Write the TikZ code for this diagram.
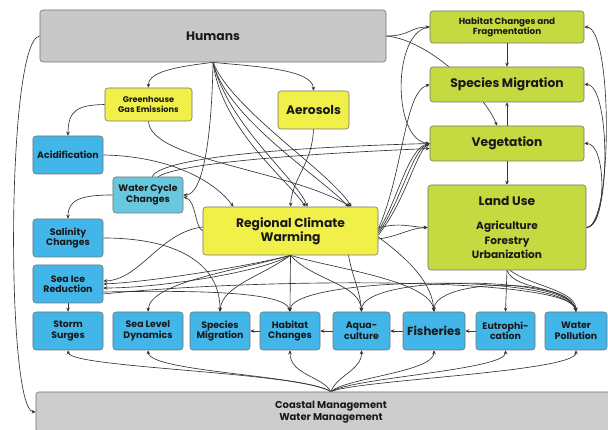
\documentclass[tikz,border=0pt]{standalone}
\usepackage{fontspec}
\setmainfont{Poppins}
\usepackage{tikz}
\usetikzlibrary{arrows.meta}
\usetikzlibrary{calc}
\pgfdeclarelayer{bg}
\pgfsetlayers{bg,main}
\definecolor{humgray}{RGB}{200,200,200}
\definecolor{landgreen}{RGB}{197,217,64}
\definecolor{climyellow}{RGB}{240,240,72}
\definecolor{seablue}{RGB}{66,182,232}
\definecolor{cycleblue}{RGB}{104,200,222}
\tikzstyle{box} =[draw=black!55, line width=0.5pt, rounded corners=2.5pt, align=center, inner sep=1pt, text=black!90]
\tikzstyle{graybox} =[box, fill=humgray, font=\bfseries\fontsize{10.5}{12}\selectfont]
\tikzstyle{greenbox} =[box, fill=landgreen, minimum width=4.62cm, minimum height=1.05cm, font=\bfseries\fontsize{10.5}{12}\selectfont]
\tikzstyle{yellowbox} =[box, fill=climyellow, font=\bfseries\fontsize{10.5}{12}\selectfont]
\tikzstyle{bluebox} =[box, fill=seablue, minimum width=2.1cm, minimum height=1.14cm, font=\bfseries\fontsize{8}{9}\selectfont]
\tikzstyle{link} =[-{Stealth[length=3.4pt,width=3pt]}, line width=0.55pt, black!80]

\begin{document}
\begin{tikzpicture}[x=0.03cm,y=-0.03cm]
		\useasboundingbox (0,0) rectangle (608,430);
		\clip (0,0) rectangle (608,430);
		\node (hum)[graybox, minimum width=10.38cm, minimum height=1.56cm] at (213,36) {Humans};
		\node (coast)[graybox, fill=humgray!90, minimum width=17.7cm, minimum height=1.2cm,
		font=\bfseries\fontsize{8.5}{10}\selectfont] at (331,412) {Coastal Management\\Water Management};
		\node (hab)[greenbox, minimum height=0.96cm, font=\bfseries\fontsize{7.5}{8.5}\selectfont] at (507,27) {Habitat Changes and\\Fragmentation};
		\node (spmg)[greenbox] at (507,84.5) {Species Migration};
		\node (veg)[greenbox] at (507,143.5) {Vegetation};
		\node (land)[greenbox, minimum width=4.74cm, minimum height=2.55cm] at (507,227.5)
		{Land Use\\[3mm]\fontsize{9}{11}\selectfont Agriculture\\\fontsize{9}{11}\selectfont Forestry\\\fontsize{9}{11}\selectfont Urbanization};
		\node (ghg)[yellowbox, minimum width=2.61cm, minimum height=0.99cm, font=\bfseries\fontsize{7}{8}\selectfont] at (148.5,104.5) {Greenhouse\\Gas Emissions};
		\node (aero)[yellowbox, minimum width=2.13cm, minimum height=1.14cm] at (313.5,110) {Aerosols};
		\node (rcw)[yellowbox, minimum width=5.25cm, minimum height=1.44cm] at (290.5,231) {Regional Climate\\Warming};
		\node (acid)[bluebox] at (68,155) {Acidification};
		\node (wcc)[bluebox, fill=cycleblue, minimum height=1.08cm] at (148,195) {Water Cycle\\Changes};
		\node (sal)[bluebox] at (68,238) {Salinity\\Changes};
		\node (ice)[bluebox] at (68,284) {Sea Ice\\Reduction};
		\node (storm)[bluebox] at (68,331) {Storm\\Surges};
		\node (slr)[bluebox] at (148,331) {Sea Level\\Dynamics};
		\node (spm)[bluebox, minimum width=1.8cm] at (220,331) {Species\\Migration};
		\node (habc)[bluebox, minimum width=1.8cm] at (290,331) {Habitat\\Changes};
		\node (aqua)[bluebox, minimum width=1.71cm] at (361.5,331) {Aqua-\\culture};
		\node (fish)[bluebox, minimum width=1.86cm, font=\bfseries\fontsize{10}{12}\selectfont] at (434,331) {Fisheries};
		\node (eutro)[bluebox, minimum width=1.77cm] at (505.5,331) {Eutrophi-\\cation};
		\node (wpol)[bluebox, minimum width=1.86cm] at (576,331) {Water\\Pollution};
		\begin{pgfonlayer}{bg}
		\draw[link] (hum.south) .. controls (185,66) and (148,70) .. (ghg.north);
		\draw[link] (hum.south) .. controls (245,66) and (313,68) .. (aero.north);
		\draw[link] (hum.south) .. controls (212,125) and (205,195) .. (wcc.east);
		\draw[link] (hum.south) .. controls (222,130) and (288,180) .. ($(rcw.north)+(15,0)$);
		\draw[link] (hum.south) .. controls (228,125) and (296,178) .. ($(rcw.north)+(17,0)$);
		\draw[link] (hum.south) .. controls (226,118) and (322,178) .. ($(rcw.north)+(58,0)$);
		\draw[link] (hum.south) .. controls (232,110) and (330,172) .. ($(rcw.north)+(61,0)$);
		\draw[link] (hum.east) .. controls (410,36) and (410,27) .. (hab.west);
		\draw[link] (hum.east) .. controls (430,40) and (485,95) .. ($(veg.north)+(-10,0)$);
		\draw[link] (hum.west) .. controls (6,40) and (6,410) .. (coast.west);
		\draw[link] (ghg.south) .. controls (150,160) and (290,170) .. ($(rcw.north)+(60,0)$);
		\draw[link] (ghg.west) .. controls (78,105) and (68,110) .. (acid.north);
		\draw[link] (acid.east) .. controls (165,156) and (212,178) .. ($(rcw.north)+(-57,0)$);
		\draw[link] (aero.south) .. controls (312,165) and (292,178) .. (rcw.north);
		\draw[link] ($(wcc.north)+(4,0)$) .. controls (160,160) and (260,148) .. (veg.west);
		\draw[link] ($(wcc.north)+(10,0)$) .. controls (180,163) and (300,154) .. ($(veg.west)+(0,5)$);
		\draw[link] (wcc.west) .. controls (80,195) and (68,200) .. (sal.north);
		\draw[link] (rcw.west) .. controls (195,228) and (196,200) .. ($(wcc.east)+(0,2)$);
		\draw[link] (sal.east) .. controls (175,238) and (220,262) .. (spm.north);
		\draw[link] (ice.south) -- (storm.north);
		\draw[link] ($(rcw.west)+(0,-4)$) .. controls (160,232) and (140,280) .. ($(ice.east)+(0,-3)$);
		\draw[link] (rcw.south) .. controls (250,266) and (150,282) .. (ice.east);
		\draw[link] (rcw.south) .. controls (262,272) and (160,288) .. ($(ice.east)+(0,4)$);
		\draw[link] ($(ice.east)+(0,8)$) .. controls (200,290) and (285,292) .. (habc.north);
		\draw[link] ($(ice.east)+(0,10)$) .. controls (260,278) and (570,276) .. (wpol.north);
		\draw[link] (rcw.south) .. controls (240,270) and (150,282) .. (slr.north);
		\draw[link] (rcw.south) .. controls (262,276) and (222,286) .. (spm.north);
		\draw[link] (rcw.south) -- (habc.north);
		\draw[link] (rcw.south) .. controls (312,280) and (360,284) .. (aqua.north);
		\draw[link] ($(rcw.south)+(58,0)$) .. controls (352,276) and (360,290) .. (aqua.north);
		\draw[link] (rcw.south) .. controls (330,268) and (430,280) .. (fish.north);
		\draw[link] ($(rcw.east)+(0,6)$) .. controls (412,262) and (432,284) .. (fish.north);
		\draw[link] ($(rcw.east)+(0,-3)$) .. controls (400,222) and (410,227) .. (land.west);
		\draw[link] ($(rcw.east)+(0,8)$) .. controls (400,236) and (410,228) .. (land.west);
		\draw[link] ($(rcw.east)+(0,0)$) .. controls (398,200) and (408,148) .. (veg.west);
		\draw[link] ($(rcw.east)+(0,2)$) .. controls (402,200) and (412,150) .. (veg.west);
		\draw[link] ($(rcw.east)+(0,4)$) .. controls (406,200) and (416,152) .. (veg.west);
		\draw[link] ($(rcw.east)+(0,-2)$) .. controls (404,170) and (404,92) .. (spmg.west);
		\draw[link] (hab.west) .. controls (392,30) and (392,140) .. (veg.west);
		\draw[link] (hab.south) -- (spmg.north);
		\draw[link] (veg.north) -- (spmg.south);
		\draw[link] (veg.south) -- (land.north);
		\draw[link] (land.east) .. controls (613,228) and (613,27) .. (hab.east);
		\draw[link] (land.east) .. controls (611,228) and (611,84) .. (spmg.east);
		\draw[link] (land.east) .. controls (607,228) and (607,143) .. (veg.east);
		\draw[link] (land.south) -- (eutro.north);
		\draw[link] (land.south) .. controls (515,292) and (570,285) .. (wpol.north);
		\draw[link] ($(land.south)+(3,0)$) .. controls (530,286) and (576,290) .. (wpol.north);
		\draw[link] (wpol.north) .. controls (576,274) and (362,274) .. (aqua.north);
		\draw[link] (wpol.north) .. controls (572,276) and (434,278) .. (fish.north);
		\draw[link] (wpol.north) .. controls (574,272) and (292,276) .. (habc.north);
		\draw[link] (habc.west) -- (spm.east);
		\draw[link] (aqua.west) -- (habc.east);
		\draw[link] (fish.west) -- (aqua.east);
		\draw[link] (eutro.west) -- (fish.east);
		\draw[link] (coast.north) .. controls (300,372) and (70,368) .. (storm.south);
		\draw[link] (coast.north) .. controls (305,375) and (150,372) .. (slr.south);
		\draw[link] (coast.north) .. controls (322,376) and (290,375) .. (habc.south);
		\draw[link] (coast.north) .. controls (336,376) and (362,370) .. (aqua.south);
		\draw[link] (coast.north) .. controls (345,378) and (434,372) .. (fish.south);
		\draw[link] (coast.north) .. controls (350,378) and (506,370) .. (eutro.south);
		\draw[link] (coast.north) .. controls (355,380) and (576,372) .. (wpol.south);
		\end{pgfonlayer}
		\end{tikzpicture}
\end{document}
